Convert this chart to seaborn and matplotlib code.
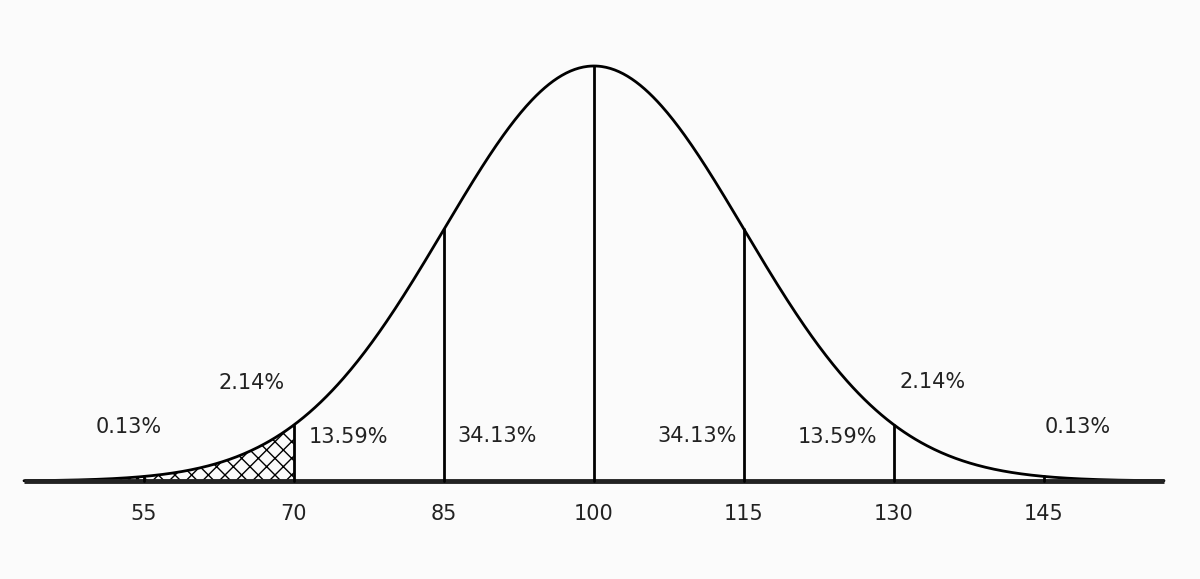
import numpy as np
import matplotlib
matplotlib.use("Agg")
import matplotlib.pyplot as plt
import seaborn as sns

sns.set_style("white")
plt.rcParams['font.family'] = ['DejaVu Sans']

mean, sd = 100, 15
tick_values = [55, 70, 85, 100, 115, 130, 145]
tick_labels = ["55", "70", "85", "100", "115", "130", "145"]
pct_labels = ["0.13%", "2.14%", "13.59%", "34.13%", "34.13%", "13.59%", "2.14%", "0.13%"]
# label anchor (x fraction, y fraction of figure)
pct_pos = [(0.107, 0.262), (0.21, 0.338), (0.29, 0.245), (0.414, 0.247),
           (0.581, 0.247), (0.698, 0.245), (0.777, 0.341), (0.898, 0.262)]

x = np.linspace(mean - 3.8 * sd, mean + 3.8 * sd, 800)
y = np.exp(-0.5 * ((x - mean) / sd) ** 2)

fig = plt.figure(figsize=(12, 5.79), dpi=100)
fig.patch.set_facecolor("#fbfbfb")
ax = fig.add_axes([0, 0, 1, 1])
ax.set_facecolor("#fbfbfb")
sns.lineplot(x=x, y=y, ax=ax, color="black", lw=2)
ax.plot([x[0], x[-1]], [0, 0], color="#222222", lw=3.5, solid_capstyle="butt")

m1 = x <= 55
ax.fill_between(x[m1], 0, y[m1], facecolor="none", edgecolor="black", hatch="xxxx", lw=0)
m2 = (x >= 55) & (x <= 70)
ax.fill_between(x[m2], 0, y[m2], facecolor="none", edgecolor="black", hatch="xx", lw=0)

for v in tick_values:
    h = np.exp(-0.5 * ((v - mean) / sd) ** 2)
    ax.plot([v, v], [0, h], color="black", lw=2)
    ax.text(v, -0.08, str(tick_labels[tick_values.index(v)]), ha="center", va="center",
            fontsize=15, color="#222222")

for lab, (fx, fy) in zip(pct_labels, pct_pos):
    fig.text(fx, fy, lab, ha="center", va="center", fontsize=15, color="#222222")

ax.set_xlim(40.6, 160.6)
ax.set_ylim(-0.236, 1.159)
ax.axis("off")
fig.savefig("out.png", dpi=100, facecolor=fig.get_facecolor())
